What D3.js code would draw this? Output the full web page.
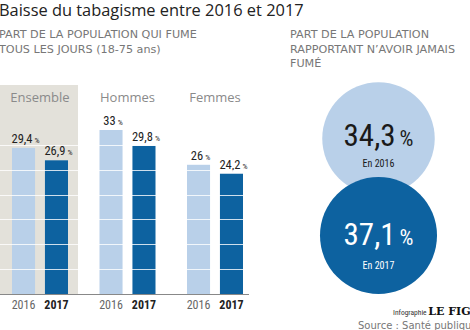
<!DOCTYPE html>
<html>
<head>
<meta charset="utf-8">
<script src="https://cdn.jsdelivr.net/npm/d3@7.9.0/dist/d3.min.js"></script>
<style>
  body { margin: 0; background: #fff; }
  svg { display: block; }
  .narrow { font-family: "Liberation Sans Narrow", "Roboto Condensed", "Liberation Sans", sans-serif; }
</style>
</head>
<body>
<svg id="chart" width="470" height="330"></svg>
<script>
// ---------- data ----------
const groups = ['Ensemble', 'Hommes', 'Femmes'];
const years = ['2016', '2017'];
const smokers2016 = [29.4, 33, 26];
const smokers2017 = [26.9, 29.8, 24.2];
const gridTicks = [5, 10, 15, 20, 25, 30];
const neverYears = ['2016', '2017'];
const neverValues = [34.3, 37.1];

const LIGHT = '#b9d0e9';
const DARK = '#0d62a0';
const PANEL = '#e3e1da';

const fmt = v => String(v).replace('.', ',');

const svg = d3.select('#chart');

// ---------- titles ----------
svg.append('text')
  .attr('x', -1).attr('y', 16)
  .attr('font-family', 'Open Sans, sans-serif')
  .attr('font-size', 16.4)
  .attr('fill', '#222')
  .text('Baisse du tabagisme entre 2016 et 2017');

const sub = svg.append('g')
  .attr('font-family', 'DejaVu Sans, sans-serif')
  .attr('font-size', 11.2)
  .attr('fill', '#777');
['PART DE LA POPULATION QUI FUME', 'TOUS LES JOURS (18-75 ans)'].forEach((t, i) =>
  sub.append('text').attr('x', -1).attr('y', 38 + i * 14.5).text(t));
['PART DE LA POPULATION', 'RAPPORTANT N\u2019AVOIR JAMAIS', 'FUM\u00c9'].forEach((t, i) =>
  sub.append('text').attr('x', 290).attr('y', 38 + i * 14.5).attr('textLength', i === 1 ? 165 : null).text(t));

// ---------- bar chart ----------
const y = d3.scaleLinear().domain([0, 33]).range([294, 130]);
const x0 = d3.scaleBand().domain(groups).range([0, 262.5]);
const x1 = d3.scaleBand().domain(years).range([12, 68]).paddingInner(0.3);

// Ensemble highlight panel
svg.append('rect')
  .attr('x', x0('Ensemble')).attr('y', 85)
  .attr('width', 78).attr('height', y(0) - 85)
  .attr('fill', PANEL);

const bars = svg.append('g');
groups.forEach((g, gi) => {
  const vals = [smokers2016[gi], smokers2017[gi]];
  const gx = x0(g);
  years.forEach((yr, yi) => {
    const bx = gx + x1(yr);
    bars.append('rect')
      .attr('x', bx).attr('y', y(vals[yi]))
      .attr('width', x1.bandwidth()).attr('height', y(0) - y(vals[yi]))
      .attr('fill', yi === 0 ? LIGHT : DARK);

    const lbl = svg.append('text')
      .attr('class', 'narrow')
      .attr('x', bx + x1.bandwidth() / 2 + 2)
      .attr('y', y(vals[yi]) - 5)
      .attr('text-anchor', 'middle')
      .attr('fill', '#222');
    lbl.append('tspan').attr('font-size', 12.5).text(fmt(vals[yi]));
    lbl.append('tspan').attr('font-size', 8).attr('dx', 2).text('%');

    svg.append('text')
      .attr('class', 'narrow')
      .attr('x', bx + x1.bandwidth() / 2)
      .attr('y', 309)
      .attr('text-anchor', 'middle')
      .attr('font-size', 12)
      .attr('font-weight', yi === 1 ? 'bold' : 'normal')
      .attr('fill', yi === 1 ? '#222' : '#666')
      .text(yr);
  });

  svg.append('text')
    .attr('x', gx + 40).attr('y', 102)
    .attr('text-anchor', 'middle')
    .attr('font-family', 'Open Sans, sans-serif')
    .attr('font-size', 13)
    .attr('fill', '#8a8a8a')
    .text(g);
});

// white grid lines over the bars
svg.append('g')
  .selectAll('line')
  .data(gridTicks)
  .join('line')
  .attr('x1', 0).attr('x2', 248)
  .attr('y1', d => Math.round(y(d)) + 0.5).attr('y2', d => Math.round(y(d)) + 0.5)
  .attr('stroke', '#fff').attr('stroke-opacity', 0.8).attr('stroke-width', 1);

// baseline
svg.append('line')
  .attr('x1', 0).attr('x2', 249)
  .attr('y1', y(0) + 0.5).attr('y2', y(0) + 0.5)
  .attr('stroke', '#888').attr('stroke-width', 1.2);

// ---------- circles ----------
const r = d3.scaleSqrt().domain([0, 37.1]).range([0, 58.5]);
const cx = 378.5;
const cy = [138.5, 235.5];
const numDy = [7, 9.5];
const subDy = [28, 33];
const circ = svg.append('g');
neverValues.forEach((v, i) => {
  circ.append('circle')
    .attr('cx', cx).attr('cy', cy[i]).attr('r', r(v))
    .attr('fill', i === 0 ? LIGHT : DARK);
  const col = i === 0 ? '#1a1a1a' : '#fff';
  const t = circ.append('text')
    .attr('class', 'narrow')
    .attr('x', cx).attr('y', cy[i] + numDy[i])
    .attr('text-anchor', 'middle')
    .attr('fill', col);
  t.append('tspan').attr('font-size', 31).text(fmt(v));
  t.append('tspan').attr('font-size', 22).attr('dx', 4).text('%');
  circ.append('text')
    .attr('class', 'narrow')
    .attr('x', cx).attr('y', cy[i] + subDy[i])
    .attr('text-anchor', 'middle')
    .attr('font-size', 10)
    .attr('fill', col)
    .text('En ' + neverYears[i]);
});

// ---------- footer ----------
const foot = svg.append('text').attr('x', 393).attr('y', 315);
foot.append('tspan').attr('class', 'narrow').attr('font-size', 7.5).attr('fill', '#333').text('Infographie ');
foot.append('tspan').attr('font-family', 'DejaVu Serif, serif').attr('font-weight', 'bold')
  .attr('font-size', 11).attr('fill', '#111').text('LE FIGARO');

svg.append('text')
  .attr('x', 358).attr('y', 329)
  .attr('font-family', 'DejaVu Sans, sans-serif')
  .attr('font-size', 10)
  .attr('fill', '#777')
  .text('Source : Sant\u00e9 publique France');
</script>
</body>
</html>
